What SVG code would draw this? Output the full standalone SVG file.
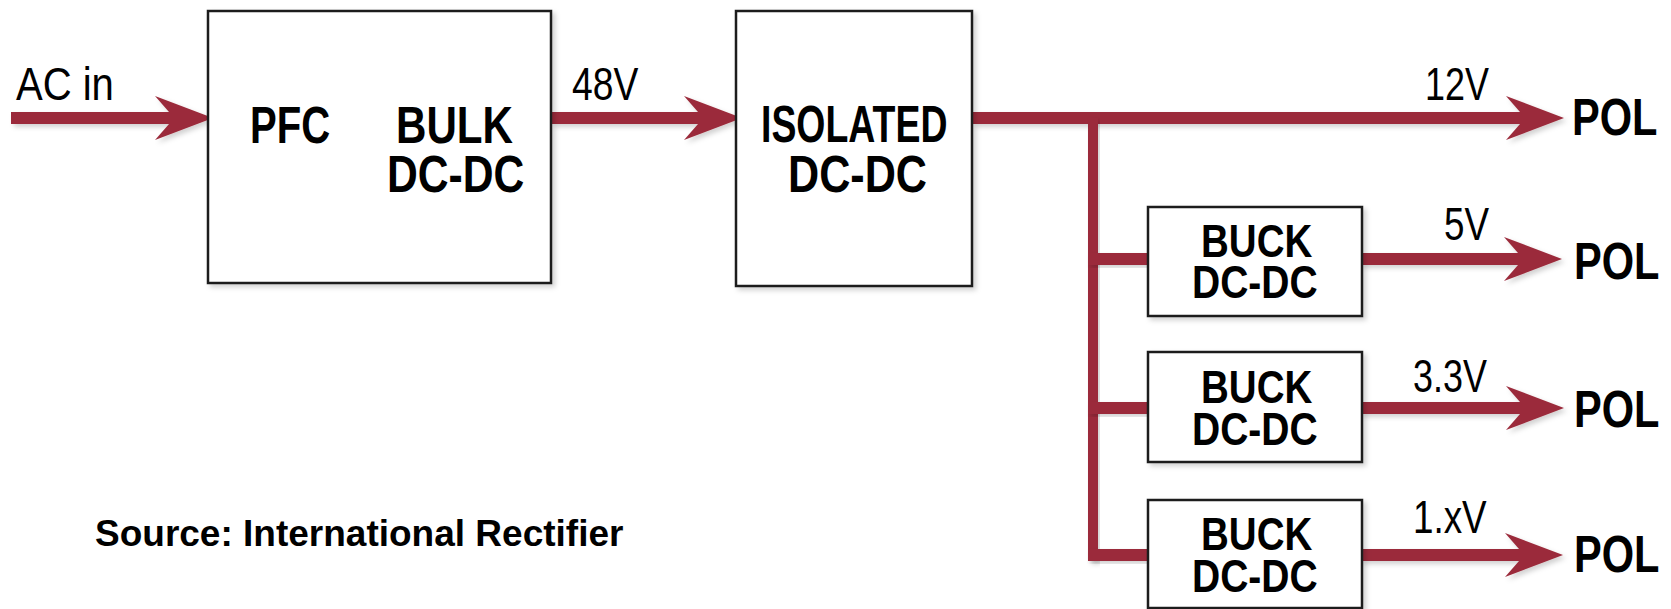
<svg xmlns="http://www.w3.org/2000/svg" width="1671" height="609" viewBox="0 0 1671 609">
<defs>
<filter id="sh" x="-10%" y="-10%" width="130%" height="130%">
<feDropShadow dx="3" dy="3" stdDeviation="2.5" flood-color="#000" flood-opacity="0.18"/>
</filter>
</defs>
<style>
.box{fill:#fff;stroke:#1e1e1e;stroke-width:2.5;filter:url(#sh)}
.wire{fill:#9b2b3b;filter:url(#sh)}
.bl{font-family:"Liberation Sans",Arial,sans-serif;font-weight:bold;fill:#000}
.big{font-size:52px}
.buck{font-size:47px}
.pol{font-size:52px}
.lt{font-family:"Liberation Sans",Arial,sans-serif;font-size:46px;fill:#000}
.src{font-family:"Liberation Sans",Arial,sans-serif;font-weight:bold;font-size:37px;fill:#000}
</style>
<rect width="1671" height="609" fill="#fff"/>
<g id="connectors">
<path class="wire" d="M11,112 H169 L155,96 L213,118 L155,140 L169,124 H11 Z"/>
<path class="wire" d="M551,112 H698 L684,96 L742,118 L684,140 L698,124 H551 Z"/>
<path class="wire" d="M972,112 H1520 L1506,96 L1564,118 L1506,140 L1520,124 H972 Z"/>
<rect class="wire" x="1088" y="118" width="10" height="443"/>
<rect class="wire" x="1088" y="253" width="62" height="12"/>
<rect class="wire" x="1088" y="402" width="62" height="12"/>
<rect class="wire" x="1088" y="549" width="62" height="12"/>
<path class="wire" d="M1360,253 H1518 L1504,237 L1562,259 L1504,281 L1518,265 H1360 Z"/>
<path class="wire" d="M1360,402 H1520 L1506,386 L1564,408 L1506,430 L1520,414 H1360 Z"/>
<path class="wire" d="M1360,549 H1519 L1505,533 L1563,555 L1505,577 L1519,561 H1360 Z"/>
</g>
<g id="pfc">
<rect class="box" x="208" y="11" width="343" height="272"/>
<text class="bl big" transform="translate(250,143) scale(0.77,1)">PFC</text>
<text class="bl big" transform="translate(396,143) scale(0.81,1)">BULK</text>
<text class="bl big" transform="translate(387,192) scale(0.82,1)">DC-DC</text>
</g>
<g id="isolated">
<rect class="box" x="736" y="11" width="236" height="275"/>
<text class="bl big" transform="translate(761,142) scale(0.72,1)">ISOLATED</text>
<text class="bl big" transform="translate(788,192) scale(0.83,1)">DC-DC</text>
</g>
<g id="buck1">
<rect class="box" x="1148" y="207" width="214" height="109"/>
<text class="bl buck" transform="translate(1201,257) scale(0.82,1)">BUCK</text>
<text class="bl buck" transform="translate(1192,298) scale(0.83,1)">DC-DC</text>
</g>
<g id="buck2">
<rect class="box" x="1148" y="352" width="214" height="110"/>
<text class="bl buck" transform="translate(1201,403) scale(0.82,1)">BUCK</text>
<text class="bl buck" transform="translate(1192,445) scale(0.83,1)">DC-DC</text>
</g>
<g id="buck3">
<rect class="box" x="1148" y="500" width="214" height="108"/>
<text class="bl buck" transform="translate(1201,550) scale(0.82,1)">BUCK</text>
<text class="bl buck" transform="translate(1192,592) scale(0.83,1)">DC-DC</text>
</g>
<g id="pol1"><text class="bl pol" transform="translate(1572,135) scale(0.8,1)">POL</text></g>
<g id="pol2"><text class="bl pol" transform="translate(1574,279) scale(0.8,1)">POL</text></g>
<g id="pol3"><text class="bl pol" transform="translate(1574,427) scale(0.8,1)">POL</text></g>
<g id="pol4"><text class="bl pol" transform="translate(1574,572) scale(0.8,1)">POL</text></g>
<g id="labels">
<text class="lt" transform="translate(16,100) scale(0.87,1)">AC in</text>
<text class="lt" transform="translate(572,100) scale(0.81,1)">48V</text>
<text class="lt" transform="translate(1425,100) scale(0.78,1)">12V</text>
<text class="lt" transform="translate(1444,240) scale(0.8,1)">5V</text>
<text class="lt" transform="translate(1413,392) scale(0.78,1)">3.3V</text>
<text class="lt" transform="translate(1413,533) scale(0.8,1)">1.xV</text>
</g>
<g id="source">
<text class="src" x="95" y="546">Source: International Rectifier</text>
</g>
</svg>
